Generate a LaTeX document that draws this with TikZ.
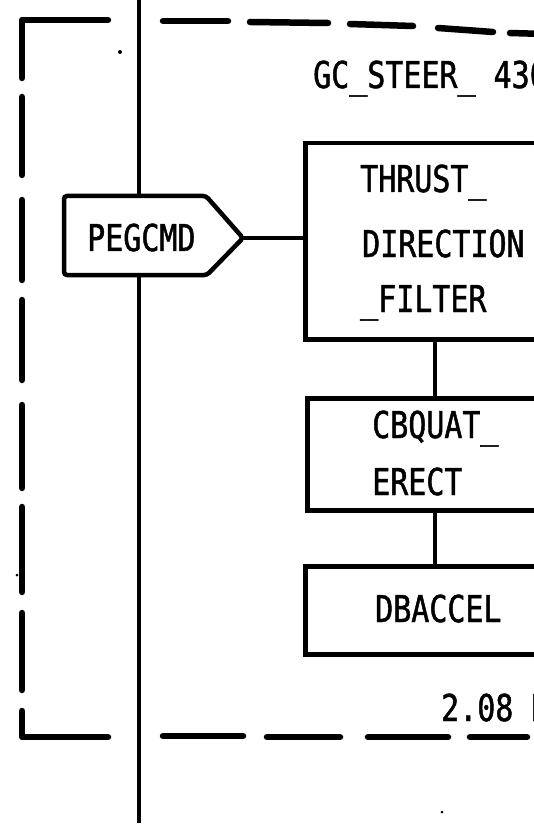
\documentclass[tikz,border=0pt]{standalone}
\usepackage{fontspec}
\setmainfont{DejaVu Sans Mono}[FakeStretch=0.81, FakeBold=1.2]
\begin{document}
\begin{tikzpicture}[x=1pt,y=-1pt,
  boxshape/.style={draw=black, line width=4.5pt, fill=white, rectangle, inner sep=0pt, anchor=north west, minimum width=300pt},
  lbl/.style={font=\fontsize{37}{42}\selectfont, inner sep=0pt, anchor=base west},
  wire/.style={line width=3.2pt},
  frame/.style={line width=6.5pt, line cap=round, line join=round},
  speck/.style={fill=black}]
\useasboundingbox (0,0) rectangle (534,826);
\clip (0,0) rectangle (534,826);
% dashed frame
\draw[frame] (108,20) -- (22,20) -- (22,78);
\draw[frame] (22,97) -- (22,175);
\draw[frame] (22,200) -- (22,280);
\draw[frame] (22,300) -- (22,380);
\draw[frame] (22,405) -- (22,488);
\draw[frame] (22,507) -- (22,592);
\draw[frame] (22,613) -- (22,690);
\draw[frame] (22,711) -- (22,737) -- (108,737);
\draw[frame] (163,21) -- (228,21);
\draw[frame] (250,22) -- (328,23);
\draw[frame] (350,24) -- (413,26);
\draw[frame] (438,28) -- (493,32);
\draw[frame] (510,33) -- (545,34);
\draw[frame] (163,736) -- (243,736);
\draw[frame] (267,737) -- (340,737);
\draw[frame] (368,737) -- (448,737);
\draw[frame] (470,737) -- (527,737);
% bus line
\coordinate (bustop) at (139,-4);
\coordinate (busbot) at (139,823);
\draw[wire] (bustop) -- (busbot);
% PEGCMD
\coordinate (pegtip) at (243,238);
\draw[line width=4.5pt, fill=white, rounded corners=3pt] (64,196) -- (206,196) -- (pegtip) -- (207,275) -- (64,275) -- cycle;
\node[lbl] (peg) at (87,251) {PEGCMD};
% boxes
\node[boxshape, minimum height=196pt] (tdf) at (303,141) {};
\node[boxshape, minimum height=112pt] (cbq) at (305,396) {};
\node[boxshape, minimum height=88pt] (dba) at (303,564) {};
\node[lbl] (t1) at (360,192) {THRUST\_};
\node[lbl] (t2) at (362,257) {DIRECTION};
\node[lbl] (t3) at (360,312) {\_FILTER};
\node[lbl] (c1) at (372,438) {CBQUAT\_};
\node[lbl] (c2) at (372,495) {ERECT};
\node[lbl] (d1) at (375,622) {DBACCEL};
\node[lbl] (title) at (313,88) {GC\_STEER\_ 430};
\node[lbl] (rate) at (441,721) {2.08 HZ};
% connectors
\draw[wire] (pegtip) -- (pegtip -| tdf.west);
\draw[wire] (435,0 |- tdf.south) -- (435,0 |- cbq.north);
\draw[wire] (435,0 |- cbq.south) -- (435,0 |- dba.north);
% specks
\fill[speck] (120,52) circle (2pt);
\fill[speck] (17,575) circle (1.5pt);
\fill[speck] (442,812) circle (1.5pt);
\end{tikzpicture}
\end{document}
